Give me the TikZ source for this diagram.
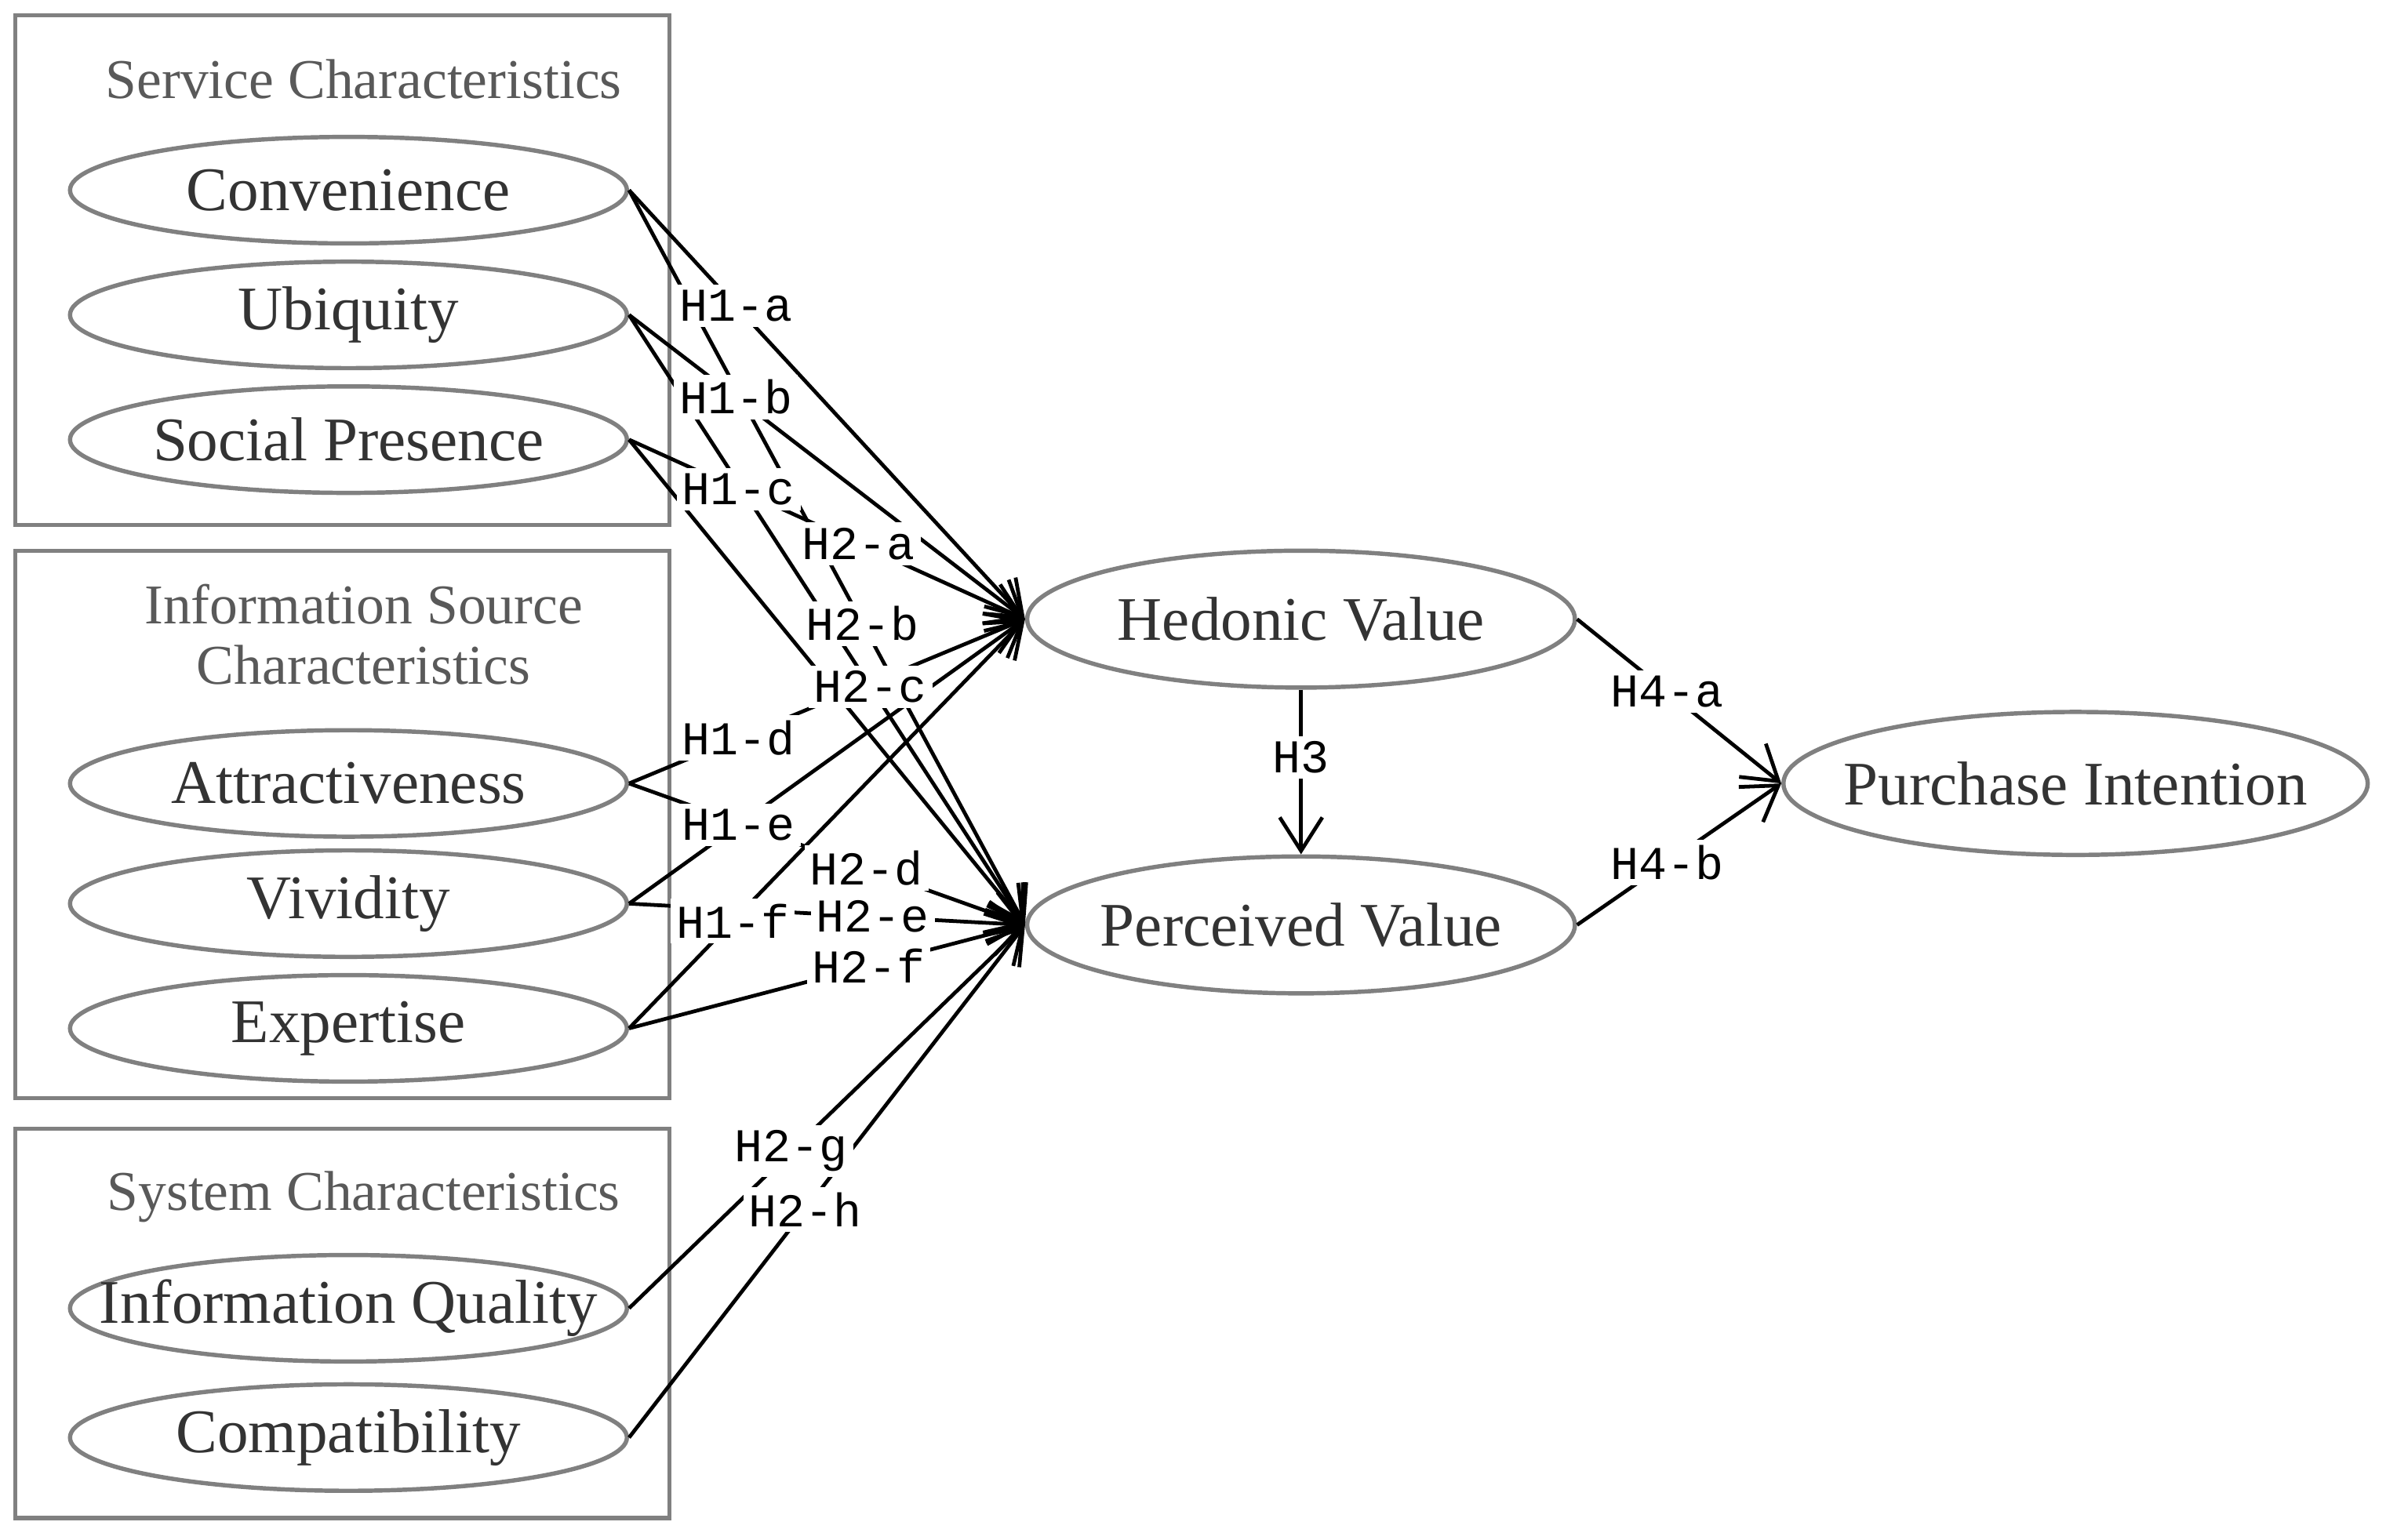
\documentclass[tikz,border=0pt]{standalone}
\usepackage{fontspec}
\setmainfont{Liberation Serif}
\newfontfamily\labelfont{Liberation Mono}
\usetikzlibrary{shapes.geometric,arrows.meta}

\begin{document}
\begin{tikzpicture}
[x=0.1mm,y=-0.1mm,
  boxDecorate/.style={draw=black!50,line width=0.8pt},
  titleDecorate/.style={text=black!65,inner sep=0pt,align=center,
    font=\fontsize{10.5}{11.4}\selectfont},
  ovalDecorate/.style={shape=ellipse,draw=black!50,line width=0.8pt,inner sep=0pt,
    minimum width=36.6mm,minimum height=7mm,text=black!80,
    font=\fontsize{11.6}{13}\selectfont},
  bigOvalDecorate/.style={ovalDecorate,minimum width=36mm,minimum height=9mm},
  lineDecorate/.style={-{Straight Barb[length=2.2mm,width=2.8mm]},line width=0.7pt},
  labelDecorate/.style={fill=white,inner sep=1pt,text=black,
    font=\labelfont\fontsize{8.8}{10}\selectfont}]
\useasboundingbox (0,0) rectangle (1568,1012);
%% group boxes
\draw[boxDecorate] (10,10) rectangle (440,345);
\draw[boxDecorate] (10,362) rectangle (440,722);
\draw[boxDecorate] (10,742) rectangle (440,998);
\node[titleDecorate] (srvTitle) at (239,52) {Service Characteristics};
\node[titleDecorate] (infTitle) at (239,417) {Information Source\\Characteristics};
\node[titleDecorate] (sysTitle) at (239,787) {System Characteristics};
%% exogenous constructs (text may run over the oval, as in the source)
\foreach \nodename/\x/\y/\txt in {
  conv/229/125/Convenience,
  ubiq/229/207/Ubiquity,
  soc/229/289/Social Presence,
  attr/229/515/Attractiveness,
  viv/229/594/Vividity,
  exp/229/676/Expertise,
  infq/229/860/Information Quality,
  comp/229/945/Compatibility}
{
  \node (\nodename) at (\x,\y) [ovalDecorate] {\makebox[0pt]{\txt}};
}
%% endogenous constructs
\node (hed) at (855,407) [bigOvalDecorate] {\makebox[0pt]{Hedonic Value}};
\node (per) at (855,608) [bigOvalDecorate] {\makebox[0pt]{Perceived Value}};
\node (pur) at (1364,515) [bigOvalDecorate,minimum width=38.4mm,minimum height=9.4mm]
  {\makebox[0pt]{Purchase Intention}};
%% paths
\foreach \src/\dst in {conv/hed,ubiq/hed,soc/hed,attr/hed,viv/hed,exp/hed,
  conv/per,ubiq/per,soc/per,attr/per,viv/per,exp/per,infq/per,comp/per}
{
  \draw[lineDecorate] (\src.east) -- (\dst.west);
}
\draw[lineDecorate] (hed.south) -- (per.north);
\draw[lineDecorate] (hed.east) -- (pur.west);
\draw[lineDecorate] (per.east) -- (pur.west);
%% hypothesis labels, put on top of the paths
\foreach \src/\dst/\name/\p in {
  conv.east/hed.west/H1-a/0.27,
  ubiq.east/hed.west/H1-b/0.27,
  soc.east/hed.west/H1-c/0.277,
  soc.east/hed.west/H2-a/0.58,
  attr.east/hed.west/H1-d/0.277,
  viv.east/hed.west/H1-e/0.277,
  exp.east/hed.west/H1-f/0.262,
  conv.east/per.west/H2-b/0.59,
  ubiq.east/per.west/H2-c/0.61,
  attr.east/per.west/H2-d/0.6,
  viv.east/per.west/H2-e/0.616,
  exp.east/per.west/H2-f/0.605,
  infq.east/per.west/H2-g/0.41,
  comp.east/per.west/H2-h/0.445,
  hed.south/per.north/H3/0.41,
  hed.east/pur.west/H4-a/0.44,
  per.east/pur.west/H4-b/0.44}
{
  \path (\src) -- (\dst) node[labelDecorate,pos=\p] (lbl-\name) {\name};
}
\end{tikzpicture}
\end{document}
